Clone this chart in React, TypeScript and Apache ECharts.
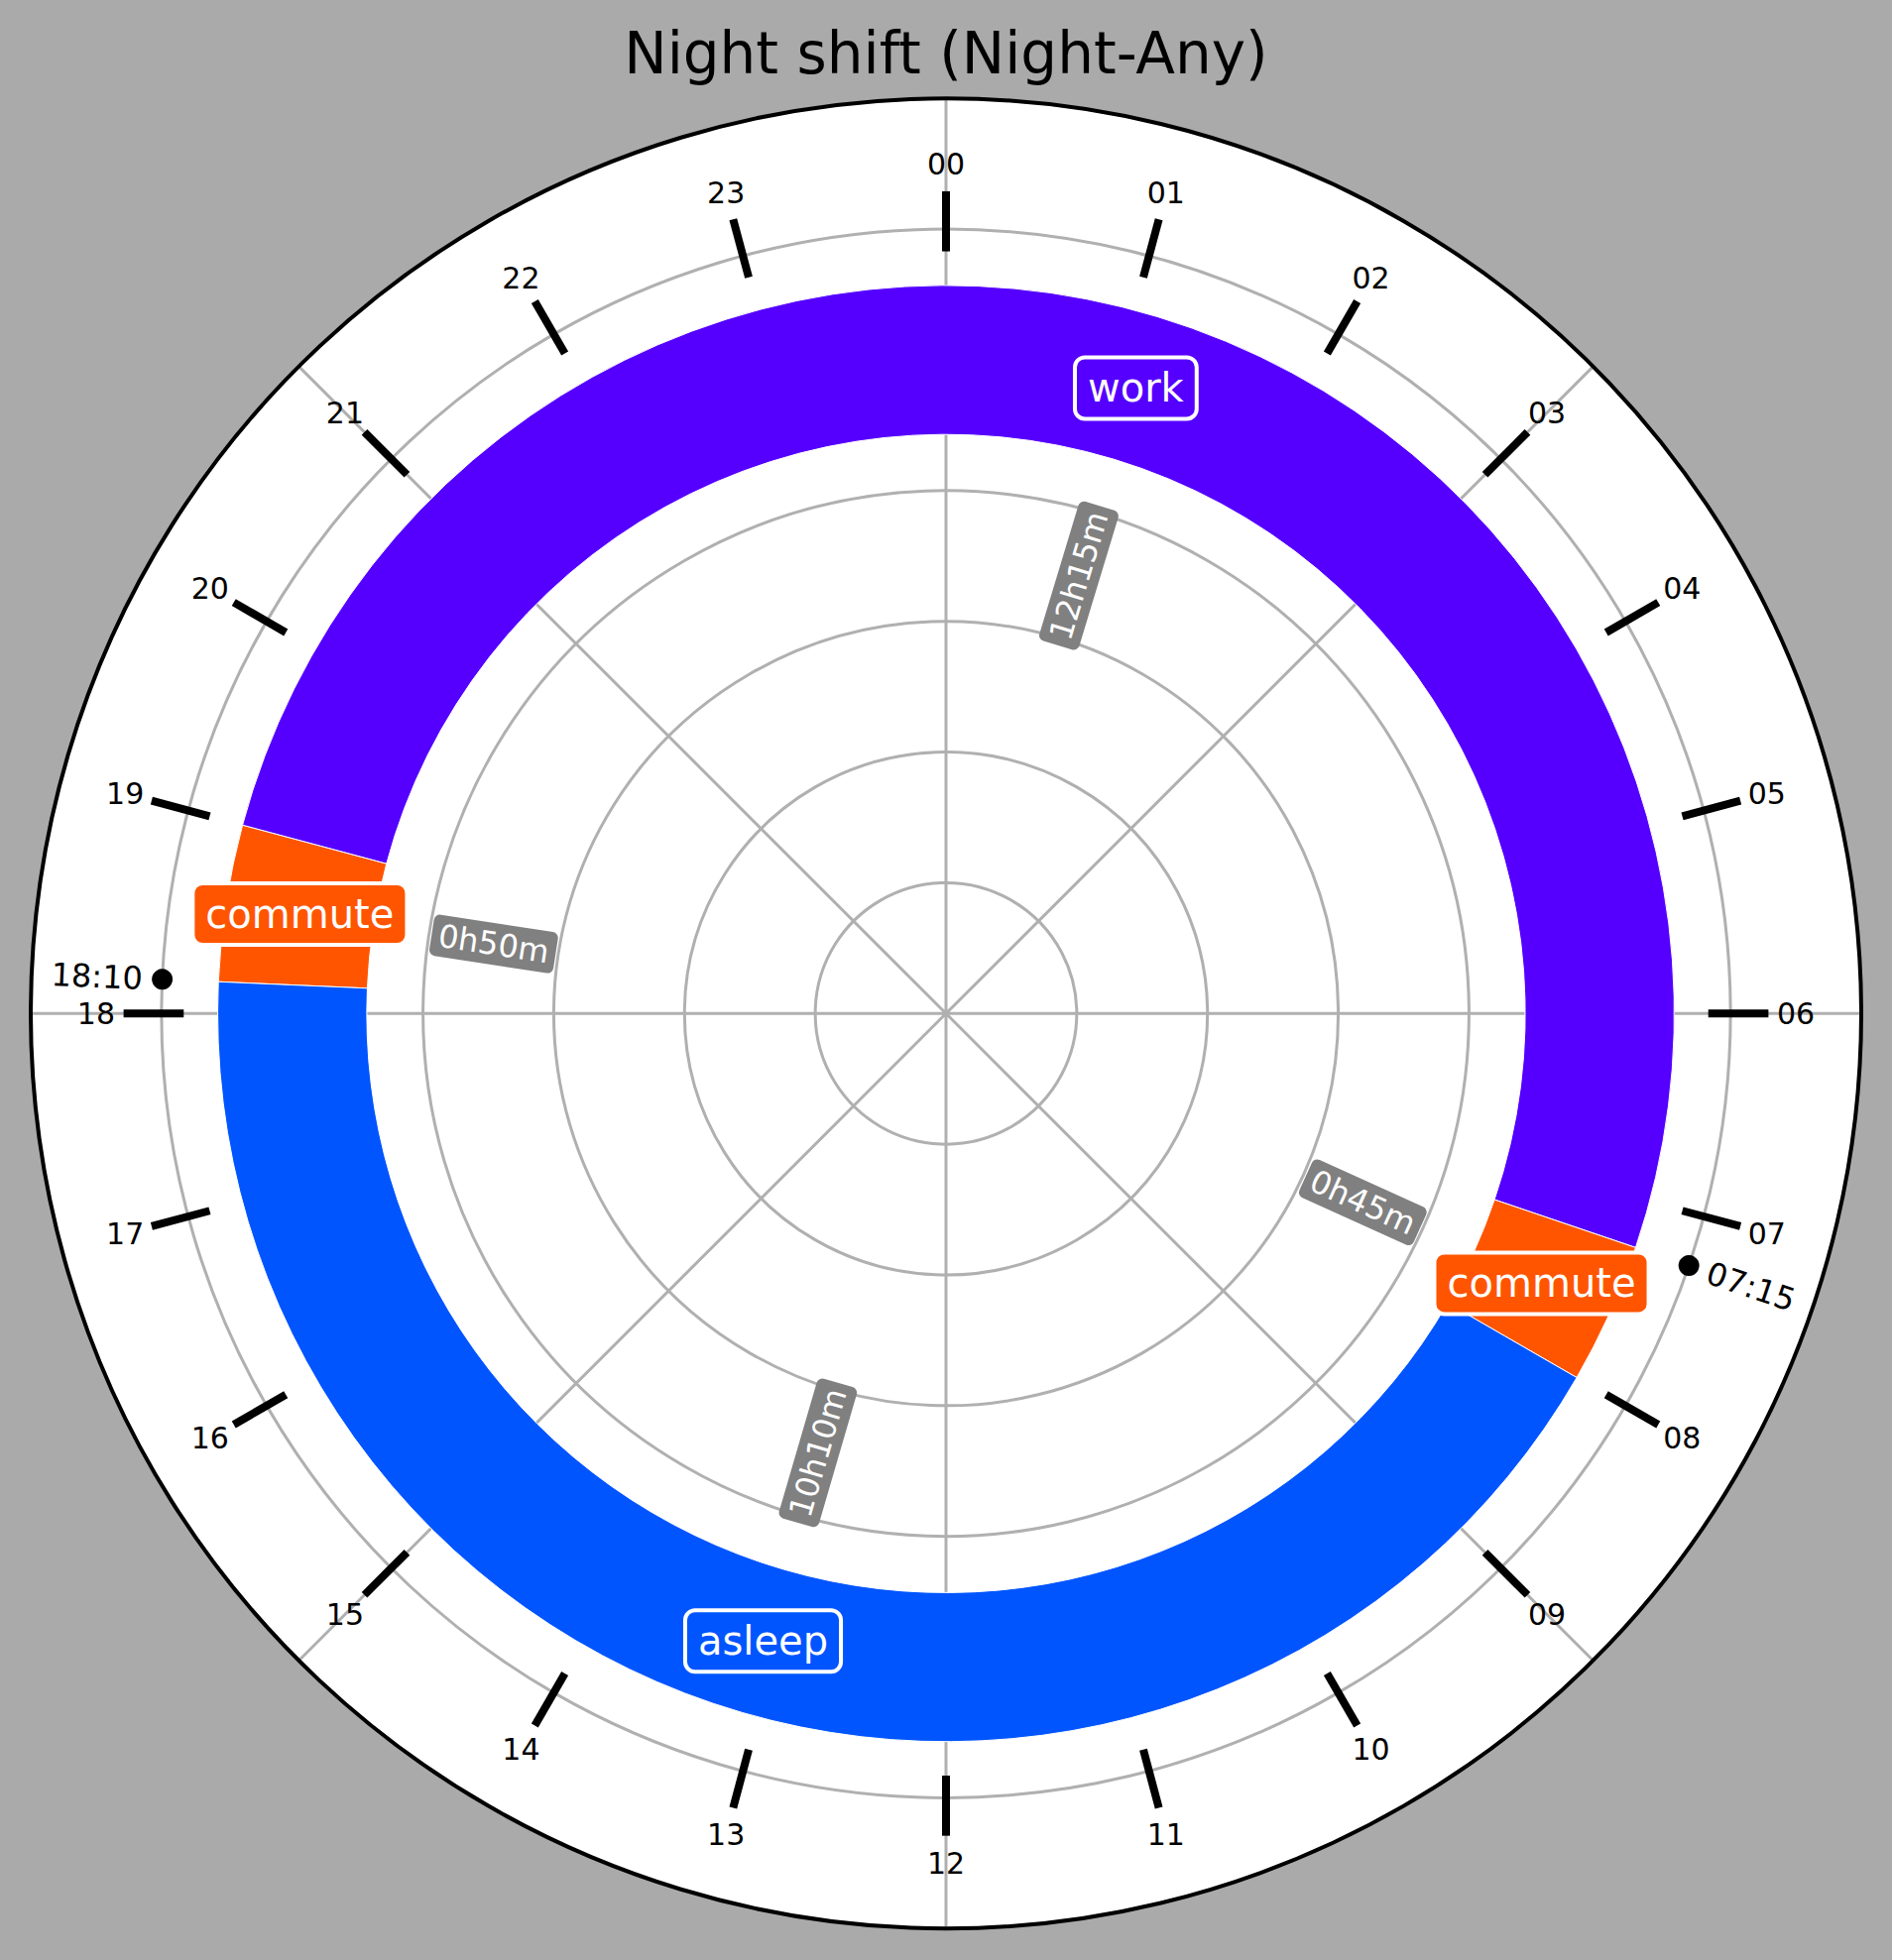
import React, { useEffect, useRef } from 'react';
import * as echarts from 'echarts';

// ---------- data ----------
const hourLabels = [
  '00', '01', '02', '03', '04', '05', '06', '07', '08', '09', '10', '11',
  '12', '13', '14', '15', '16', '17', '18', '19', '20', '21', '22', '23',
];
const segmentNames = ['commute', 'work', 'commute', 'asleep'];
const segmentStarts = ['18:10', '19:00', '07:15', '08:00'];
const segmentEnds = ['19:00', '07:15', '08:00', '18:10'];
const segmentDurations = ['0h50m', '12h15m', '0h45m', '10h10m'];
const segmentColors = ['#ff5500', '#5500ff', '#ff5500', '#0055ff'];
const markerTimes = ['18:10', '07:15'];
const titleText = 'Night shift (Night-Any)';

// ---------- layout / style constants ----------
const W = 1908;
const H = 1977;
const CX = 954;
const CY = 1022.3;
const R = 923;
const R_MAX = 7;
const BAR_IN = 4.43;
const BAR_OUT = 5.57;
const LABEL_R = 5;
const DUR_R = 3.5;
const TICK_IN = 5.83;
const TICK_OUT = 6.29;
const HOUR_R = 6.5;
const MARK_R = 6;
const FONT = '"DejaVu Sans", "Liberation Sans", sans-serif';

function toHours(t: string): number {
  const [h, m] = t.split(':').map(Number);
  return h + m / 60;
}

function radialRotation(p: number[], cx: number, cy: number): number {
  const ang = Math.atan2(p[1] - cy, p[0] - cx);
  let rot = -ang;
  while (rot > Math.PI / 2 + 1e-9) rot -= Math.PI;
  while (rot <= -Math.PI / 2 + 1e-9) rot += Math.PI;
  return rot;
}

export default function App() {
  const ref = useRef<HTMLDivElement>(null);

  useEffect(() => {
    document.body.style.margin = '0';
    document.body.style.overflow = 'hidden';
    if (!ref.current) return;
    const chart = echarts.init(ref.current, null, { renderer: 'svg' });

    const segData = segmentNames.map((_, i) => [
      toHours(segmentStarts[i]),
      toHours(segmentEnds[i]),
      i,
    ]);
    const hourData = hourLabels.map((h, i) => [Number(h), i]);
    const markerData = markerTimes.map((t) => [MARK_R, toHours(t)]);
    const markerLabelData = markerTimes.map((t, i) => [toHours(t), i]);

    const option: any = {
      animation: false,
      backgroundColor: '#aaaaaa',
      title: {
        text: titleText,
        left: 'center',
        top: 20,
        textStyle: {
          fontSize: 58,
          fontWeight: 'normal',
          fontFamily: FONT,
          color: '#000',
        },
      },
      polar: {
        center: [CX, CY],
        radius: R,
      },
      angleAxis: {
        type: 'value',
        min: 0,
        max: 24,
        interval: 3,
        startAngle: 90,
        clockwise: true,
        axisLine: { show: true, lineStyle: { color: '#000', width: 4 } },
        axisTick: { show: false },
        axisLabel: { show: false },
        splitLine: { show: true, lineStyle: { color: '#b0b0b0', width: 3 } },
      },
      radiusAxis: {
        type: 'value',
        min: 0,
        max: R_MAX,
        interval: 1,
        axisLine: { show: false },
        axisTick: { show: false },
        axisLabel: { show: false },
        splitLine: { show: true, lineStyle: { color: '#b0b0b0', width: 3 } },
      },
      series: [
        // white plot background
        {
          type: 'custom',
          coordinateSystem: 'polar',
          z: -10,
          silent: true,
          data: [[0, 0]],
          renderItem: (params: any) => ({
            type: 'circle',
            shape: { cx: params.coordSys.cx, cy: params.coordSys.cy, r: params.coordSys.r },
            style: { fill: '#ffffff' },
          }),
        },
        // segments
        {
          type: 'custom',
          coordinateSystem: 'polar',
          z: 2,
          silent: true,
          data: segData,
          renderItem: (params: any, api: any) => {
            const start = api.value(0);
            const end = api.value(1);
            const i = api.value(2);
            const cx = params.coordSys.cx;
            const cy = params.coordSys.cy;
            const angleOf = (h: number) => {
              const p = api.coord([LABEL_R, h]);
              return Math.atan2(p[1] - cy, p[0] - cx);
            };
            const radOf = (r: number) => {
              const p = api.coord([r, 0]);
              return Math.hypot(p[0] - cx, p[1] - cy);
            };
            const a0 = angleOf(start);
            let a1 = angleOf(end);
            while (a1 <= a0) a1 += 2 * Math.PI;
            return {
              type: 'sector',
              shape: {
                cx,
                cy,
                r0: radOf(BAR_IN),
                r: radOf(BAR_OUT),
                startAngle: a0,
                endAngle: a1,
                clockwise: true,
              },
              style: { fill: segmentColors[i], stroke: '#ffffff', lineWidth: 1 },
            };
          },
        },
        // hour ticks and labels
        {
          type: 'custom',
          coordinateSystem: 'polar',
          z: 3,
          silent: true,
          data: hourData,
          renderItem: (params: any, api: any) => {
            const h = api.value(0);
            const i = api.value(1);
            const p0 = api.coord([TICK_IN, h]);
            const p1 = api.coord([TICK_OUT, h]);
            const pl = api.coord([HOUR_R, h]);
            return {
              type: 'group',
              children: [
                {
                  type: 'line',
                  shape: { x1: p0[0], y1: p0[1], x2: p1[0], y2: p1[1] },
                  style: { stroke: '#000', lineWidth: 8, lineCap: 'butt' },
                },
                {
                  type: 'text',
                  x: pl[0],
                  y: pl[1],
                  style: {
                    text: hourLabels[i],
                    fill: '#000',
                    font: `30px ${FONT}`,
                    align: 'center',
                    verticalAlign: 'middle',
                    textAlign: 'center',
                    textVerticalAlign: 'middle',
                  },
                },
              ],
            };
          },
        },
        // marker dots
        {
          type: 'scatter',
          coordinateSystem: 'polar',
          z: 4,
          silent: true,
          symbol: 'circle',
          symbolSize: 21,
          itemStyle: { color: '#000000', opacity: 1 },
          data: markerData,
        },
        // marker labels
        {
          type: 'custom',
          coordinateSystem: 'polar',
          z: 4,
          silent: true,
          data: markerLabelData,
          renderItem: (params: any, api: any) => {
            const h = api.value(0);
            const i = api.value(1);
            const p = api.coord([HOUR_R, h]);
            const rot = radialRotation(p, params.coordSys.cx, params.coordSys.cy);
            return {
              type: 'text',
              x: p[0],
              y: p[1],
              rotation: rot,
              style: {
                text: markerTimes[i],
                fill: '#000',
                font: `32px ${FONT}`,
                align: 'center',
                verticalAlign: 'middle',
                textAlign: 'center',
                textVerticalAlign: 'middle',
              },
            };
          },
        },
        // segment labels (name + duration)
        {
          type: 'custom',
          coordinateSystem: 'polar',
          z: 5,
          silent: true,
          data: segData,
          renderItem: (params: any, api: any) => {
            const start = api.value(0);
            const end = api.value(1);
            const i = api.value(2);
            let dur = end - start;
            if (dur <= 0) dur += 24;
            const mid = (start + dur / 2) % 24;
            const pL = api.coord([LABEL_R, mid]);
            const pD = api.coord([DUR_R, mid]);
            const rot = radialRotation(pD, params.coordSys.cx, params.coordSys.cy);
            return {
              type: 'group',
              children: [
                {
                  type: 'text',
                  x: pD[0],
                  y: pD[1],
                  rotation: rot,
                  style: {
                    text: segmentDurations[i],
                    fill: '#ffffff',
                    font: `32px ${FONT}`,
                    align: 'center',
                    verticalAlign: 'middle',
                    textAlign: 'center',
                    textVerticalAlign: 'middle',
                    backgroundColor: '#808080',
                    padding: [5, 7],
                    borderRadius: 6,
                  },
                },
                {
                  type: 'text',
                  x: pL[0],
                  y: pL[1],
                  style: {
                    text: segmentNames[i],
                    fill: '#ffffff',
                    font: `40px ${FONT}`,
                    align: 'center',
                    verticalAlign: 'middle',
                    textAlign: 'center',
                    textVerticalAlign: 'middle',
                    backgroundColor: segmentColors[i],
                    borderColor: '#ffffff',
                    borderWidth: 4,
                    padding: [9, 11],
                    borderRadius: 8,
                  },
                },
              ],
            };
          },
        },
      ],
    };

    chart.setOption(option);
    return () => {
      chart.dispose();
    };
  }, []);

  return <div ref={ref} style={{ width: W, height: H }} />;
}
